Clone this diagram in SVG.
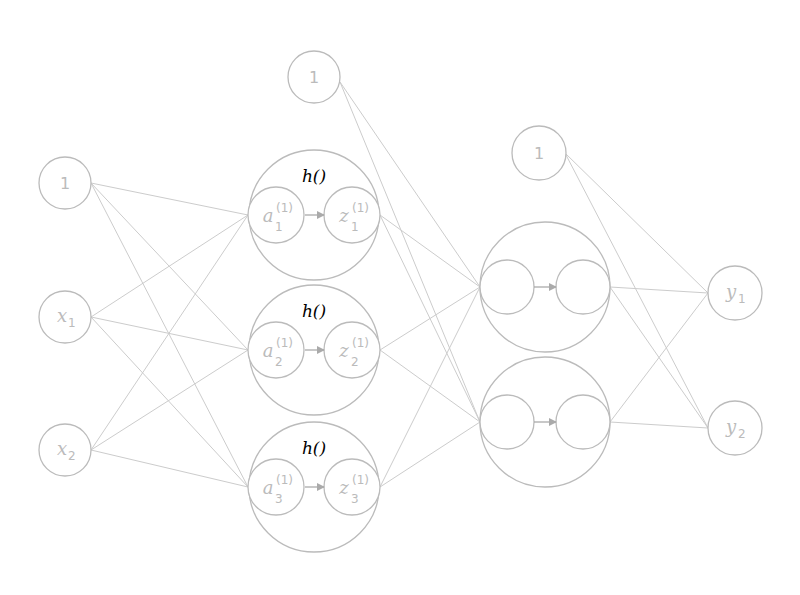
<svg xmlns="http://www.w3.org/2000/svg" width="800" height="595" viewBox="0 0 800 595">
<defs><marker id="ah" markerWidth="8" markerHeight="8" refX="7" refY="4" orient="auto" markerUnits="userSpaceOnUse"><path d="M0,0 L8,4 L0,8 z" fill="#aaa"/></marker></defs>
<style>
circle{fill:#fff;stroke:#bbb;stroke-width:1.3}
.c line{stroke:#ccc;stroke-width:1}
.t{font-family:"DejaVu Serif",serif;font-style:italic;font-size:18px;fill:#bbb;text-anchor:middle}
.p{font-family:"DejaVu Serif",serif;font-style:italic;font-size:12px;fill:#bbb}
.q{font-family:"DejaVu Sans",sans-serif;font-size:12px;fill:#bbb}
.n{font-family:"DejaVu Sans",sans-serif;font-size:16px;fill:#bbb;text-anchor:middle}
.h{font-family:"DejaVu Serif",serif;font-style:italic;font-size:17px;fill:#000;text-anchor:middle}
.ar{stroke:#aaa;stroke-width:1.3}
</style>
<rect width="800" height="595" fill="#fff"/>
<g class="c">
<line x1="91" y1="183" x2="248" y2="215"/><line x1="91" y1="183" x2="248" y2="350"/><line x1="91" y1="183" x2="248" y2="487"/>
<line x1="91" y1="317" x2="248" y2="215"/><line x1="91" y1="317" x2="248" y2="350"/><line x1="91" y1="317" x2="248" y2="487"/>
<line x1="91" y1="450" x2="248" y2="215"/><line x1="91" y1="450" x2="248" y2="350"/><line x1="91" y1="450" x2="248" y2="487"/>
<line x1="340" y1="82" x2="480" y2="287"/><line x1="340" y1="82" x2="480" y2="422"/>
<line x1="380" y1="215" x2="480" y2="287"/><line x1="380" y1="215" x2="480" y2="422"/>
<line x1="380" y1="350" x2="480" y2="287"/><line x1="380" y1="350" x2="480" y2="422"/>
<line x1="380" y1="487" x2="480" y2="287"/><line x1="380" y1="487" x2="480" y2="422"/>
<line x1="565" y1="153" x2="708" y2="293"/><line x1="565" y1="153" x2="708" y2="428"/>
<line x1="610" y1="287" x2="708" y2="293"/><line x1="610" y1="287" x2="708" y2="428"/>
<line x1="610" y1="422" x2="708" y2="293"/><line x1="610" y1="422" x2="708" y2="428"/>
</g>
<g id="in1"><circle cx="65" cy="183" r="26"/><text class="n" x="65" y="189">1</text></g>
<g id="x1"><circle cx="65" cy="317" r="26"/><text class="t" x="62" y="322">x</text><text class="q" x="68" y="327">1</text></g>
<g id="x2"><circle cx="65" cy="450" r="26"/><text class="t" x="62" y="455">x</text><text class="q" x="68" y="460">2</text></g>
<g id="b1"><circle cx="314" cy="77" r="26"/><text class="n" x="314" y="83">1</text></g>
<g id="h1"><circle cx="314" cy="215" r="65"/><text class="h" x="314" y="182">h()</text><circle cx="276" cy="215" r="28"/><circle cx="352" cy="215" r="28"/><line class="ar" x1="305" y1="215" x2="324" y2="215" marker-end="url(#ah)"/><text class="t" x="268" y="222">a</text><text class="q" x="275" y="231">1</text><text class="q" x="276" y="212">(1)</text><text class="t" x="344" y="222">z</text><text class="q" x="351" y="231">1</text><text class="q" x="352" y="212">(1)</text></g>
<g id="h2"><circle cx="314" cy="350" r="65"/><text class="h" x="314" y="317">h()</text><circle cx="276" cy="350" r="28"/><circle cx="352" cy="350" r="28"/><line class="ar" x1="305" y1="350" x2="324" y2="350" marker-end="url(#ah)"/><text class="t" x="268" y="357">a</text><text class="q" x="275" y="366">2</text><text class="q" x="276" y="347">(1)</text><text class="t" x="344" y="357">z</text><text class="q" x="351" y="366">2</text><text class="q" x="352" y="347">(1)</text></g>
<g id="h3"><circle cx="314" cy="487" r="65"/><text class="h" x="314" y="454">h()</text><circle cx="276" cy="487" r="28"/><circle cx="352" cy="487" r="28"/><line class="ar" x1="305" y1="487" x2="324" y2="487" marker-end="url(#ah)"/><text class="t" x="268" y="494">a</text><text class="q" x="275" y="503">3</text><text class="q" x="276" y="484">(1)</text><text class="t" x="344" y="494">z</text><text class="q" x="351" y="503">3</text><text class="q" x="352" y="484">(1)</text></g>
<g id="b2"><circle cx="539" cy="153" r="27"/><text class="n" x="539" y="159">1</text></g>
<g id="g1"><circle cx="545" cy="287" r="65"/><circle cx="507" cy="287" r="27"/><circle cx="583" cy="287" r="27"/><line class="ar" x1="534" y1="287" x2="556" y2="287" marker-end="url(#ah)"/></g>
<g id="g2"><circle cx="545" cy="422" r="65"/><circle cx="507" cy="422" r="27"/><circle cx="583" cy="422" r="27"/><line class="ar" x1="534" y1="422" x2="556" y2="422" marker-end="url(#ah)"/></g>
<g id="y1"><circle cx="735" cy="293" r="27"/><text class="t" x="731" y="298">y</text><text class="q" x="738" y="303">1</text></g>
<g id="y2"><circle cx="735" cy="428" r="27"/><text class="t" x="731" y="433">y</text><text class="q" x="738" y="438">2</text></g>
</svg>
